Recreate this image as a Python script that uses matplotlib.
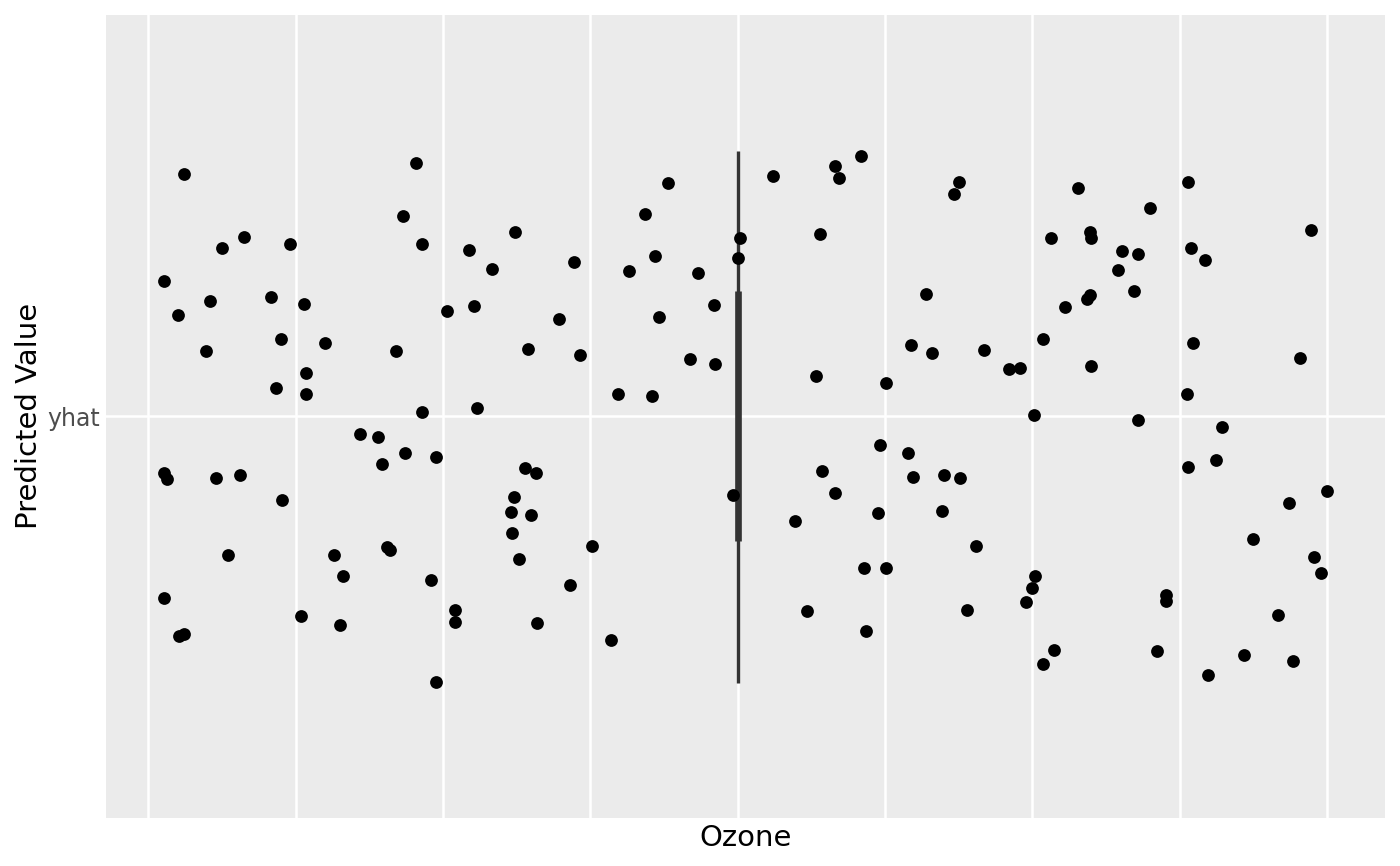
#!/usr/bin/env python3
"""Jittered predicted values against Ozone, ggplot-style look."""
import matplotlib
matplotlib.use("Agg")
import matplotlib.pyplot as plt
import numpy as np

# 153 observations: Ozone position (axis units) and vertical jitter around "yhat"
ozone = [
    0.24, 0.65, 0.50, 0.96, 0.11, 0.42, 0.83, 0.20, 0.90, 0.39,
    0.87, 0.11, 0.13, 0.46, 0.62, 0.91, 0.54, 0.11, 0.21, 0.24,
    1.04, 1.82, 1.73, 1.86, 1.06, 1.20, 1.68, 1.07, 1.07, 1.86,
    1.44, 1.56, 1.74, 1.95, 1.59, 1.62, 1.64, 1.26, 1.32, 1.92,
    1.30, 1.95, 2.49, 2.18, 2.33, 2.89, 2.03, 2.21, 2.79, 2.58,
    2.93, 2.23, 2.56, 2.63, 2.48, 2.46, 2.60, 2.47, 2.52, 3.01,
    2.86, 2.08, 2.08, 2.64, 3.53, 3.37, 4.02, 4.00, 3.44, 3.26,
    3.73, 3.84, 3.47, 3.68, 3.85, 3.19, 3.42, 3.97, 3.14, 4.84,
    4.66, 4.69, 4.24, 4.56, 4.53, 5.01, 4.97, 4.57, 4.66, 4.95,
    4.39, 4.86, 5.01, 4.47, 4.87, 5.50, 5.47, 5.28, 5.18, 5.32,
    5.67, 5.84, 5.92, 6.07, 6.01, 5.16, 5.19, 5.40, 5.51, 5.39,
    5.62, 6.02, 6.00, 5.96, 5.56, 6.07, 6.15, 6.31, 7.06, 6.80,
    6.13, 6.39, 6.40, 6.61, 6.72, 7.08, 6.58, 6.69, 6.37, 6.39,
    6.22, 7.09, 6.40, 7.05, 6.72, 7.06, 6.91, 6.91, 6.85, 7.89,
    7.17, 7.82, 7.29, 7.25, 8.00, 7.74, 7.50, 7.91, 7.96, 7.67,
    7.44, 7.77, 7.19,
]
jitter = [
    0.362, 0.268, 0.251, 0.257, 0.202, 0.172, 0.179, 0.151, 0.115, 0.098,
    0.043, -0.085, -0.094, -0.092, -0.087, -0.125, -0.208, -0.272, -0.329, -0.325,
    -0.299, 0.379, 0.299, 0.258, 0.168, 0.110, 0.097, 0.065, 0.034, 0.006,
    -0.027, -0.031, -0.055, -0.061, -0.071, -0.196, -0.200, -0.207, -0.238, -0.245,
    -0.312, -0.397, 0.275, 0.248, 0.220, 0.230, 0.157, 0.165, 0.145, 0.101,
    0.091, 0.012, -0.077, -0.084, -0.120, -0.143, -0.148, -0.174, -0.213, -0.194,
    -0.252, -0.289, -0.308, -0.309, 0.349, 0.303, 0.267, 0.236, 0.240, 0.218,
    0.215, 0.167, 0.148, 0.085, 0.079, 0.033, 0.030, -0.118, -0.335, 0.389,
    0.374, 0.357, 0.359, 0.272, 0.061, 0.050, -0.043, -0.081, -0.115, -0.144,
    -0.157, -0.226, -0.226, -0.291, -0.321, 0.350, 0.333, 0.183, 0.106, 0.094,
    0.099, 0.071, 0.072, 0.115, 0.002, -0.055, -0.090, -0.088, -0.092, -0.142,
    -0.194, -0.239, -0.256, -0.278, -0.289, -0.370, -0.350, 0.341, 0.351, 0.311,
    0.266, 0.276, 0.266, 0.247, 0.243, 0.251, 0.219, 0.188, 0.176, 0.181,
    0.164, 0.110, 0.075, 0.034, -0.005, -0.076, -0.267, -0.276, -0.351, 0.278,
    0.233, 0.087, -0.016, -0.065, -0.111, -0.130, -0.183, -0.211, -0.234, -0.297,
    -0.357, -0.366, -0.386,
]
category = "yhat"
x_breaks = [0, 1, 2, 3, 4, 5, 6, 7, 8]

# summary interval drawn at the centre of the Ozone range
interval_x = 4.0
outer_interval = (-0.398, 0.396)
inner_interval = (-0.186, 0.187)

x = np.array(ozone)
y = 1 + np.array(jitter)

fig = plt.figure(figsize=(14, 8.66), dpi=100)
ax = fig.add_axes([106.3 / 1400, 1 - 817.7 / 866, (1385 - 106.3) / 1400, (817.7 - 15) / 866])
ax.set_facecolor("#EBEBEB")
for s in ax.spines.values():
    s.set_visible(False)

span = x.max() - x.min()
ax.set_xlim(x.min() - 0.05 * span, x.max() + 0.05 * span)
ax.set_ylim(0.4, 1.6)

ax.set_xticks(x_breaks)
ax.set_xticklabels([])
ax.set_yticks([1])
ax.set_yticklabels([category])
ax.tick_params(axis="both", length=0)
ax.tick_params(axis="y", labelsize=17, labelcolor="#4D4D4D", pad=4.4)
ax.grid(True, color="white", linewidth=1.8)
ax.set_axisbelow(True)

ax.plot(x, y, "o", color="black", markersize=9.2, markeredgewidth=0, zorder=3)
ax.plot([interval_x, interval_x], [1 + outer_interval[0], 1 + outer_interval[1]],
        color="#333333", linewidth=2.4, solid_capstyle="butt", zorder=2)
ax.plot([interval_x, interval_x], [1 + inner_interval[0], 1 + inner_interval[1]],
        color="#333333", linewidth=4.8, solid_capstyle="butt", zorder=2)

ax.set_xlabel("Ozone", fontsize=21, labelpad=1)
ax.set_ylabel("Predicted Value", fontsize=21, labelpad=3.5)

fig.savefig("out.png", dpi=100)
